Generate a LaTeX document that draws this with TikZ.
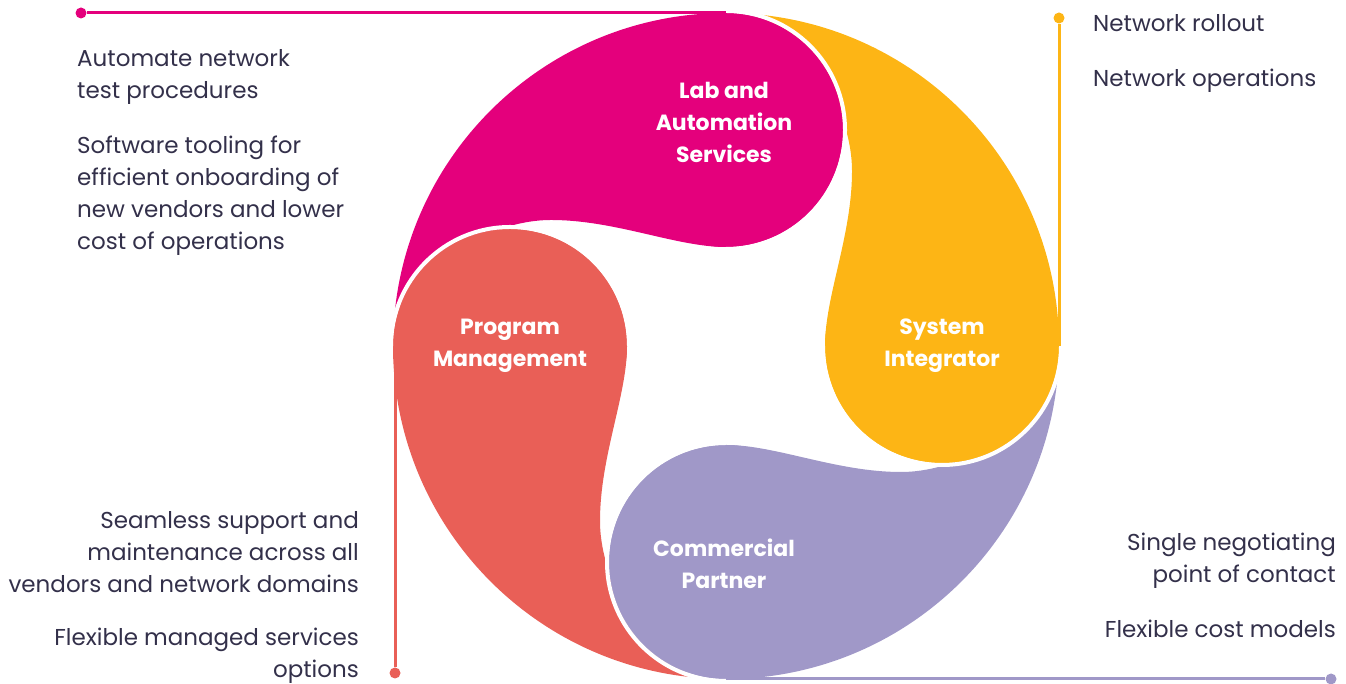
\documentclass[tikz,border=0pt]{standalone}
\usepackage{fontspec}
\setmainfont{Poppins}
\definecolor{cPink}{HTML}{E4007C}
\definecolor{cYellow}{HTML}{FDB515}
\definecolor{cRed}{HTML}{E95F57}
\definecolor{cPurple}{HTML}{A098C8}
\definecolor{cText}{HTML}{33304A}
\newcommand{\petalshape}{(177:333) arc[start angle=177,end angle=90,radius=333pt] arc[start angle=90,end angle=-90,radius=117pt] .. controls (-50,99) and (-110,126) .. (-175,126) .. controls (-250,126) and (-333,60) .. (177:333) -- cycle}
\newcommand{\bulbshape}{(0,216) circle[radius=117pt]}
\newcommand{\bulbgap}{(0,335) arc[start angle=90,end angle=-90,radius=119pt]}
\tikzset{
  gapline/.style={draw=white, line width=4pt},
  bodytext/.style={inner sep=0pt, text=cText, font=\fontsize{23}{32}\selectfont},
  lefttext/.style={bodytext, align=left, anchor=base west},
  righttext/.style={bodytext, align=right, anchor=base east},
  petallabel/.style={inner sep=0pt, text=white, align=center, font=\fontsize{22}{32}\selectfont\bfseries},
  conn/.style={line width=3pt},
  dotnode/.style={circle, inner sep=0pt, minimum size=11pt}
}
\begin{document}
\begin{tikzpicture}[x=1pt,y=1pt]
\useasboundingbox (0,0) rectangle (1346,684);
\begin{scope}[shift={(726,338)}]
  \fill[cPink] \petalshape;
  \fill[cRed, rotate=90] \petalshape;
  \fill[cPurple, rotate=180] \petalshape;
  \fill[cYellow, rotate=270] \petalshape;
  \fill[cPink] \bulbshape;
  \draw[gapline] \bulbgap;
  \fill[cRed, rotate=90] \bulbshape;
  \draw[gapline, rotate=90] \bulbgap;
  \fill[cPurple, rotate=180] \bulbshape;
  \draw[gapline, rotate=180] \bulbgap;
  \fill[cYellow, rotate=270] \bulbshape;
  \draw[gapline, rotate=270] \bulbgap;
\end{scope}

% petal labels
\node[petallabel] (lab) at (724,562) {Lab and\\Automation\\Services};
\node[petallabel] (prog) at (510,338) {Program\\Management};
\node[petallabel] (sys) at (942,338) {System\\Integrator};
\node[petallabel] (comm) at (724,120) {Commercial\\Partner};

% connectors
\coordinate (T) at (726,671);
\coordinate (R) at (1059,338);
\coordinate (B) at (726,5);
\coordinate (L) at (395,338);
\node[dotnode, fill=cPink] (pd) at (81,671) {};
\node[dotnode, fill=cYellow] (yd) at (1059,666) {};
\node[dotnode, fill=cPurple] (ud) at (1331,5) {};
\node[dotnode, fill=cRed] (rd) at (395,11) {};
\draw[conn, cPink] (pd) -- (T);
\draw[conn, cYellow] (yd) -- (R);
\draw[conn, cPurple] (B) -- (ud);
\draw[conn, cRed] (L) -- (rd);

% texts (base anchor = baseline of the last line)
\node[lefttext] (t1) at (77,585) {Automate network\\test procedures};
\node[lefttext] (t2) at (77,434) {Software tooling for\\efficient onboarding of\\new vendors and lower\\cost of operations};
\node[lefttext] (t3) at (1093,652) {Network rollout};
\node[lefttext] (t4) at (1093,597) {Network operations};
\node[righttext] (t5) at (359,91) {Seamless support and\\maintenance across all\\vendors and network domains};
\node[righttext] (t6) at (359,6) {Flexible managed services\\options};
\node[righttext] (t7) at (1336,101) {Single negotiating\\point of contact};
\node[righttext] (t8) at (1336,46) {Flexible cost models};
\end{tikzpicture}
\end{document}
